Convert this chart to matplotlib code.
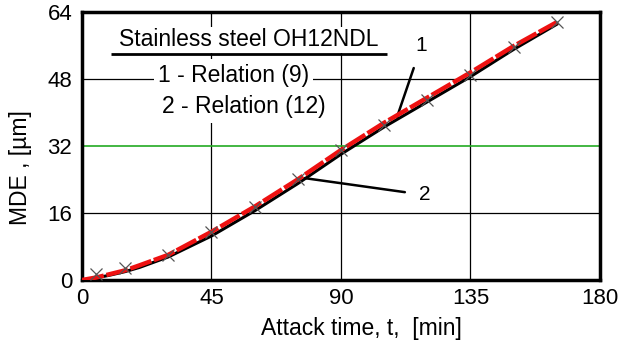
import matplotlib
matplotlib.use('Agg')
import matplotlib.pyplot as plt

plt.rcParams['font.family'] = ['Liberation Sans', 'DejaVu Sans']

# relation (9) - red dashed, with experimental markers
t_rel9 = [0, 5, 15, 20, 30, 45, 60, 75, 90, 105, 120, 135, 150, 165]
mde_rel9 = [0, 0.6, 2.3, 3.5, 6.0, 11.5, 17.5, 24.0, 31.0, 37.5, 43.5, 49.5, 55.8, 61.5]
# measured points
t_meas = [5, 15, 30, 45, 60, 75, 90, 105, 120, 135, 150, 165]
mde_meas = [1.5, 2.8, 6.0, 11.5, 17.5, 24.0, 31.0, 37.0, 43.0, 49.0, 55.5, 61.5]
# relation (12) - black
t_rel12 = [0, 5, 10, 15, 20, 30, 45, 60, 75, 90, 105, 120, 135, 150, 165]
mde_rel12 = [0, 0.5, 1.2, 2.0, 3.0, 5.5, 10.5, 16.5, 23.0, 30.0, 36.5, 42.5, 48.5, 55.0, 61.0]

xticks = [0, 45, 90, 135, 180]
yticks = [0, 16, 32, 48, 64]


def plotting():
    fig = plt.figure(figsize=(6.18, 3.40), dpi=100)
    ax = fig.add_axes([0.1327, 0.1765, 0.838, 0.789])
    ax.set_xlim(0, 180)
    ax.set_ylim(0, 64)
    ax.set_xticks(xticks)
    ax.set_yticks(yticks)
    ax.tick_params(length=0, labelsize=16)
    ax.tick_params(axis='x', pad=6)
    ax.tick_params(axis='y', pad=7)

    for x in xticks[1:-1]:
        ax.axvline(x, color='black', lw=0.9, zorder=1)
    for y in [16, 48]:
        ax.axhline(y, color='black', lw=0.9, zorder=1)
    ax.axhline(32, color='#22aa22', lw=1.2, zorder=1)

    ax.plot(t_rel12, mde_rel12, color='black', lw=2.2, zorder=3)
    ax.plot(t_rel9, mde_rel9, color='#ee1111', lw=3.2, dashes=(5, 0.6), zorder=4)
    ax.plot(t_meas, mde_meas, ls='none', marker='x', ms=9, mew=0.9,
            color='#555555', zorder=5)

    for s in ax.spines.values():
        s.set_linewidth(2.5)

    ax.annotate('1', xy=(109.5, 38.9), xytext=(118, 56), fontsize=15,
                ha='center', va='center',
                arrowprops=dict(arrowstyle='-', color='black', lw=1.8,
                                shrinkA=8, shrinkB=0))
    ax.annotate('2', xy=(77.4, 24.3), xytext=(119, 20.3), fontsize=15,
                ha='center', va='center',
                arrowprops=dict(arrowstyle='-', color='black', lw=1.8,
                                shrinkA=8, shrinkB=0))

    ax.text(58, 57.3, 'Stainless steel OH12NDL', fontsize=16.5, ha='center',
            va='center', zorder=6,
            bbox=dict(facecolor='white', edgecolor='none', pad=1))
    ax.plot([10, 106], [53.9, 53.9], color='black', lw=2, zorder=6,
            solid_capstyle='butt')
    ax.text(52.7, 48.9, '1 - Relation (9)', fontsize=16.5, ha='center',
            va='center', zorder=6,
            bbox=dict(facecolor='white', edgecolor='none', pad=3))
    ax.text(56.2, 41.3, '2 - Relation (12)', fontsize=16.5, ha='center',
            va='center', zorder=6,
            bbox=dict(facecolor='white', edgecolor='none', pad=3))

    ax.set_xlabel('Attack time, t,  [min]', fontsize=16.5, va='center')
    ax.xaxis.set_label_coords(0.539, -0.18)
    ax.set_ylabel('MDE , [\u00b5m]', fontsize=16.5, va='center')
    ax.yaxis.set_label_coords(-0.118, 0.42)
    fig.savefig('out.png', dpi=100)


if __name__ == '__main__':
    plotting()
